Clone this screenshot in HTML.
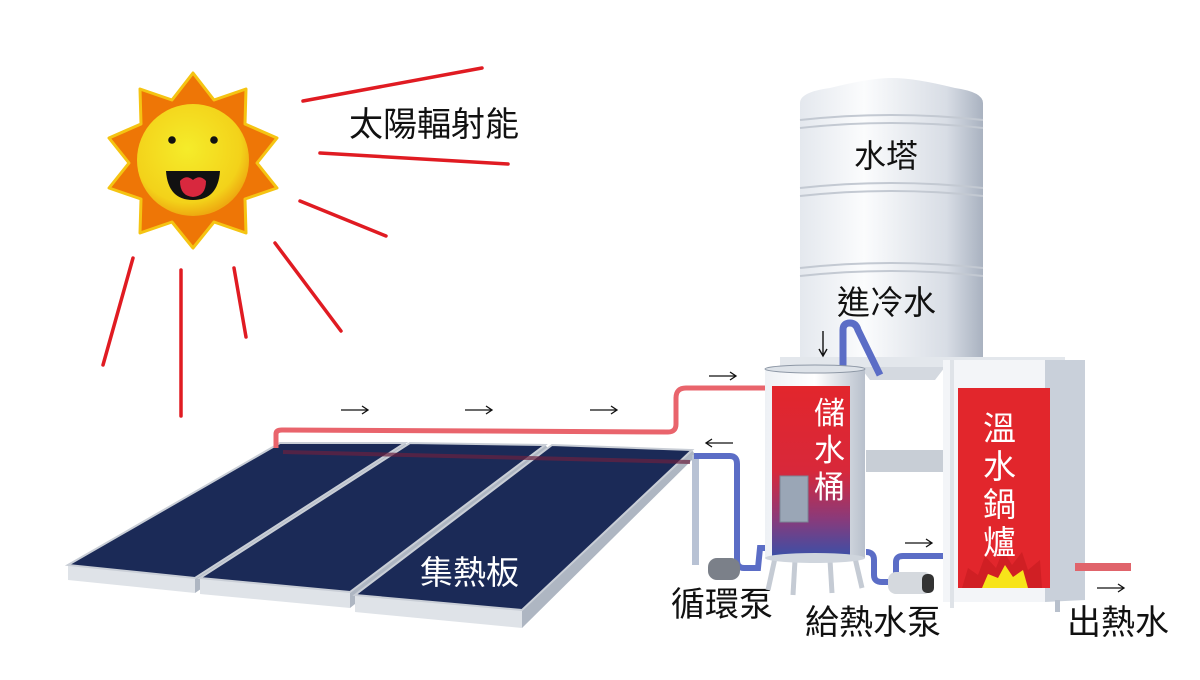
<!DOCTYPE html>
<html><head><meta charset="utf-8"><style>
html,body{margin:0;padding:0;background:#fff;}
svg{display:block;}
text{font-family:"Liberation Sans","Noto Sans CJK TC",sans-serif;}
</style></head><body>
<svg width="1200" height="680" viewBox="0 0 1200 680" xmlns="http://www.w3.org/2000/svg">
<defs>
<linearGradient id="tw" x1="0" x2="1" y1="0" y2="0">
<stop offset="0" stop-color="#e4e8ee"/><stop offset="0.35" stop-color="#fbfcfd"/><stop offset="0.8" stop-color="#d8dde5"/><stop offset="1" stop-color="#a9b2c0"/></linearGradient>
<linearGradient id="tank" x1="0" x2="0" y1="0" y2="1">
<stop offset="0" stop-color="#e2262c"/><stop offset="0.5" stop-color="#d8283a"/><stop offset="0.78" stop-color="#8a3a7a"/><stop offset="1" stop-color="#3c4fa6"/></linearGradient>
<linearGradient id="tankbody" x1="0" x2="1"><stop offset="0" stop-color="#eef1f5"/><stop offset="0.5" stop-color="#fff"/><stop offset="1" stop-color="#b8c0cc"/></linearGradient>
<radialGradient id="face" cx="0.45" cy="0.4" r="0.6"><stop offset="0" stop-color="#f5ec2a"/><stop offset="0.8" stop-color="#f3d21a"/><stop offset="1" stop-color="#eeaa10"/></radialGradient>
</defs>

<g stroke="#e01b22" stroke-width="3.5" stroke-linecap="round">
<line x1="303" y1="101" x2="482" y2="68"/>
<line x1="320" y1="153" x2="508" y2="164"/>
<line x1="300" y1="201" x2="386" y2="236"/>
<line x1="275" y1="243" x2="341" y2="331"/>
<line x1="234" y1="268" x2="246" y2="337"/>
<line x1="181" y1="270" x2="181" y2="416"/>
<line x1="133" y1="258" x2="103" y2="365"/>
</g>
<polygon fill="#ee7606" stroke="#f5c412" stroke-width="3" stroke-linejoin="round" points="193,73 214,100 246,89 245,124 277,138 257,163 277,188 245,199 246,233 214,222 193,248 172,222 140,233 141,199 109,188 129,163 109,138 141,124 140,89 172,100"/>
<circle cx="193" cy="160" r="56" fill="url(#face)"/>
<circle cx="172" cy="140" r="3.8" fill="#111"/><circle cx="214" cy="140" r="3.8" fill="#111"/>
<path d="M166 171 L220 171 Q218 200 193 200 Q168 200 166 171 Z" fill="#111"/>
<path d="M180 181 Q186 174 193 180 Q200 174 206 181 Q206 196 193 197 Q180 196 180 181Z" fill="#d8283e"/>
<text x="349" y="136" font-size="34" fill="#111">太陽輻射能</text>

<path d="M800 357 L800 103 Q800 92 830 88 Q870 78 892 78 Q915 78 955 88 Q983 92 983 103 L983 357 Z" fill="url(#tw)"/>
<g stroke="#c3c9d2" stroke-width="2" fill="none">
<path d="M800 120 Q892 110 983 120"/><path d="M800 128 Q892 118 983 128"/>
<path d="M800 188 Q892 178 983 188"/><path d="M800 196 Q892 186 983 196"/>
<path d="M800 268 Q892 258 983 268"/><path d="M800 276 Q892 266 983 276"/>
</g>
<text x="854" y="167" font-size="32" fill="#111">水塔</text>
<text x="837" y="314" font-size="33" fill="#111">進冷水</text>
<rect x="780" y="357" width="285" height="10" fill="#e3e7ec"/>
<polygon points="860,367 945,367 935,380 870,380" fill="#d4d9e0"/>
<rect x="866" y="450" width="82" height="22" fill="#c8ced6"/>
<path d="M843 372 L843 330 Q843 323 850 323 Q856 323 858 330 L880 375" stroke="#5b6dc6" stroke-width="7" fill="none"/>
<path d="M823 331 L823 355 M819 349 L823 356 L827 349" stroke="#111" stroke-width="1.4" fill="none"/>

<g>
<polygon points="68,565 195,578 195,593 68,580" fill="#dfe3e8"/>
<polygon points="195,578 405,443 408,447 195,593" fill="#aeb6c2"/>
<polygon points="280,443 405,443 195,578 68,565" fill="#1b2a57" stroke="#c9ced6" stroke-width="2"/>
<polygon points="200,578 350,592 350,608 200,594" fill="#dfe3e8"/>
<polygon points="350,592 545,445 549,449 350,608" fill="#aeb6c2"/>
<polygon points="410,443 545,445 350,592 200,578" fill="#1b2a57" stroke="#c9ced6" stroke-width="2"/>
<polygon points="355,595 522,610 522,628 355,612" fill="#dfe3e8"/>
<polygon points="522,610 692,450 696,456 522,628" fill="#aeb6c2"/>
<polygon points="552,445 692,450 522,610 355,595" fill="#1b2a57" stroke="#c9ced6" stroke-width="2"/>
<line x1="283" y1="452" x2="690" y2="462" stroke="#6a2140" stroke-width="4" opacity="0.7"/>
</g>
<text x="420" y="584" font-size="33" fill="#fff">集熱板</text>
<rect x="692" y="455" width="7" height="110" fill="#b8c2d4"/>

<path d="M276 448 L276 434 Q276 430 282 430 L668 432 Q676 432 676 424 L676 398 Q676 388 686 388 L767 388" stroke="#e9646c" stroke-width="5" fill="none"/>
<g stroke="#111" stroke-width="1.3" fill="none">
<path d="M341 410 H367 M362 406 L368 410 L362 414"/>
<path d="M465 410 H491 M486 406 L492 410 L486 414"/>
<path d="M590 410 H616 M611 406 L617 410 L611 414"/>
<path d="M709 376 H735 M730 372 L736 376 L730 380"/>
<path d="M707 443 H733 M712 439 L706 443 L712 447"/>
<path d="M905 543 H931 M926 539 L932 543 L926 547"/>
<path d="M1097 588 H1123 M1118 584 L1124 588 L1118 592"/>
</g>
<path d="M694 456 L730 456 Q737 456 737 464 L737 560 Q737 568 744 568 L758 568 L760 548 L768 548" stroke="#5b6dc6" stroke-width="6" fill="none"/>
<rect x="708" y="558" width="32" height="22" rx="9" fill="#7b8089"/>
<text x="671" y="616" font-size="34" fill="#111">循環泵</text>

<rect x="765" y="368" width="100" height="190" fill="url(#tankbody)"/>
<ellipse cx="815" cy="369" rx="50" ry="4" fill="#dde2e8" stroke="#8e98a6" stroke-width="1"/>
<rect x="772" y="386" width="78" height="170" fill="url(#tank)"/>
<rect x="780" y="476" width="28" height="46" fill="#9aa6b6" stroke="#7a8595"/>
<g fill="#fff" font-size="31"><text x="814" y="424">儲</text><text x="814" y="461">水</text><text x="814" y="498">桶</text></g>
<g stroke="#c5cbd4" stroke-width="5"><line x1="775" y1="558" x2="768" y2="590"/><line x1="795" y1="560" x2="793" y2="595"/><line x1="830" y1="560" x2="832" y2="593"/><line x1="855" y1="558" x2="862" y2="588"/></g>
<ellipse cx="815" cy="558" rx="50" ry="5" fill="#cfd5dd"/>
<path d="M866 552 Q874 552 874 560 L874 575 Q874 582 882 582 L896 582 L896 562 Q896 556 903 556 L945 556" stroke="#5b6dc6" stroke-width="6" fill="none"/>
<rect x="888" y="572" width="44" height="22" rx="8" fill="#d5d9de"/>
<rect x="922" y="574" width="12" height="19" rx="5" fill="#333"/>
<text x="805" y="634" font-size="34" fill="#111">給熱水泵</text>

<rect x="943" y="360" width="102" height="242" fill="#f3f5f8"/>
<polygon points="1045,360 1085,360 1085,600 1045,602" fill="#c9d0da"/>
<rect x="950" y="360" width="4" height="248" fill="#dfe3e8"/>
<rect x="1055" y="600" width="5" height="12" fill="#b8c0cc"/>
<rect x="958" y="388" width="92" height="200" fill="#e2262c"/>
<polygon points="962,588 968,568 978,575 985,556 996,568 1003,550 1012,565 1022,552 1028,570 1040,560 1042,588" fill="#d01f24"/>
<polygon points="982,588 988,574 998,578 1005,565 1013,577 1023,570 1028,588" fill="#f7e41a"/>
<g fill="#fff" font-size="33"><text x="983" y="440">溫</text><text x="983" y="478">水</text><text x="983" y="516">鍋</text><text x="983" y="554">爐</text></g>
<rect x="1075" y="563" width="56" height="8" fill="#e0646b"/>
<text x="1067" y="634" font-size="34" fill="#111">出熱水</text>
</svg>
</body></html>
